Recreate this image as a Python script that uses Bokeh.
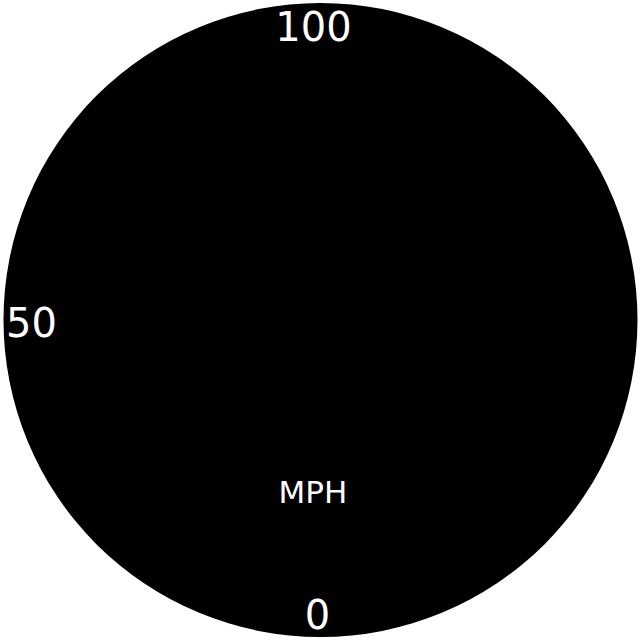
import numpy as np
from bokeh.plotting import figure
from bokeh.models import Range1d
from bokeh.core.properties import value
from bokeh.embed import file_html
from bokeh.resources import INLINE

# gauge data
tick_values = [0, 50, 100]
tick_labels = ["0", "50", "100"]
unit_label = "MPH"

# value -> angle: 0 at the bottom, 100 at the top, going round the left side
start_angle = 269.4
span = 178.0
max_value = 100.0

def to_angle(v):
    return np.deg2rad(start_angle - span * np.asarray(v) / max_value)

R = 1.0          # dial radius
label_rx = 0.912 # tick label track, horizontal
label_ry = 0.929 # tick label track, vertical
scale = 317.0    # px per unit

W = H = 640
cx, cy = 320.0, 319.5  # dial centre in plot pixels

p = figure(width=W, height=H, output_backend="svg", toolbar_location=None,
           x_range=Range1d(-cx / scale, (W - cx) / scale),
           y_range=Range1d(-(H - cy) / scale, cy / scale),
           min_border=0)
p.axis.visible = False
p.grid.visible = False
p.outline_line_color = None
p.background_fill_color = "white"
p.border_fill_color = "white"

p.circle(x=[0], y=[0], radius=R, fill_color="black", line_color=None)

ang = to_angle(tick_values)
p.text(x=label_rx * np.cos(ang), y=label_ry * np.sin(ang), text=tick_labels,
       text_color="white", text_font=value("DejaVu Sans"),
       text_font_size="40px", text_align="center", text_baseline="middle")

p.text(x=[-0.024], y=[-0.544], text=[unit_label],
       text_color="white", text_font=value("DejaVu Sans"),
       text_font_size="31px", text_align="center", text_baseline="middle")

open("out.html", "w").write(file_html(p, INLINE))
